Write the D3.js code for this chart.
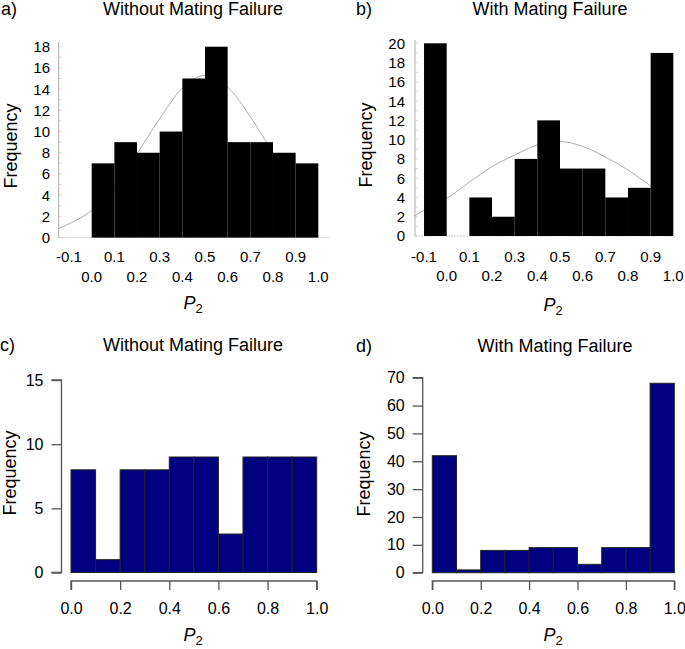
<!DOCTYPE html>
<html><head><meta charset="utf-8">
<script src="https://cdn.jsdelivr.net/npm/d3@7"></script>
<style>body{margin:0;background:#fff}svg{display:block}text{font-family:"Liberation Sans",Arial,sans-serif;fill:#000}</style>
</head><body><svg id="c" width="685" height="649"></svg>
<script>
// ---- data ----
const edgesA = [0.0,0.1,0.2,0.3,0.4,0.5,0.6,0.7,0.8,0.9,1.0];
const countsA = [7,9,8,10,15,18,9,9,8,7];
const curveA = [[-0.146,0.85],[-0.1,1.3],[-0.05,1.85],[0,2.55],[0.1,4.7],[0.2,7.9],[0.3,11.2],[0.4,14.1],[0.5,15.3],[0.6,14.2],[0.7,11.4],[0.8,8.0],[0.9,4.8],[0.98,2.9]];
const edgesB = [-0.1,0.0,0.1,0.2,0.3,0.4,0.5,0.6,0.7,0.8,0.9,1.0];
const countsB = [20,0,4,2,8,12,7,7,4,5,19];
const curveB = [[-0.14,2.08],[-0.1,2.7],[0,3.9],[0.1,5.6],[0.2,7.2],[0.3,8.4],[0.4,9.45],[0.5,9.8],[0.6,9.3],[0.7,8.2],[0.8,6.85],[0.9,5.2],[0.95,4.4]];
const edgesCD = [0.0,0.1,0.2,0.3,0.4,0.5,0.6,0.7,0.8,0.9,1.0];
const countsC = [8,1,8,8,9,9,3,9,9,9];
const countsD = [42,1,8,8,9,9,3,9,9,68];
const xTopRow = [-0.1,0.1,0.3,0.5,0.7,0.9];
const xBottomRow = [0.0,0.2,0.4,0.6,0.8,1.0];
const xTicksCD = [0,0.2,0.4,0.6,0.8,1.0];
const yTicksA = d3.range(0,19,2);
const yTicksB = d3.range(0,21,2);
const yTicksC = [0,5,10,15];
const yTicksD = [0,10,20,30,40,50,60,70];
const titles = ["Without Mating Failure","With Mating Failure","Without Mating Failure","With Mating Failure"];
const letters = ["a)","b)","c)","d)"];

const svg = d3.select("#c");

function header(cx, lx, base, letter, title){
  svg.append("text").attr("x",lx).attr("y",base).attr("font-size",18).text(letter);
  svg.append("text").attr("x",cx).attr("y",base).attr("text-anchor","middle").attr("font-size",18).text(title);
}
function ylabel(x, cy){
  svg.append("text").attr("transform",`translate(${x},${cy}) rotate(-90)`).attr("text-anchor","middle").attr("font-size",18).text("Frequency");
}
function p2(cx, base){
  const t = svg.append("text").attr("x",cx).attr("y",base).attr("text-anchor","middle").attr("font-size",18);
  t.append("tspan").attr("font-style","italic").text("P");
  t.append("tspan").attr("font-size",13).attr("dy",4).text("2");
}

// ---- old style panels (a, b) ----
function oldPanel(o){
  const x = d3.scaleLinear().domain([0,1]).range(o.xr);
  const y = d3.scaleLinear().domain([0,o.ymax]).range(o.yr);
  const g = svg.append("g");
  g.append("line").attr("x1",x(o.xlo)).attr("x2",x(o.xlo)).attr("y1",y(0)).attr("y2",y(o.ytop)).attr("stroke","#999").attr("stroke-width",0.8);
  g.append("line").attr("x1",x(o.xlo)).attr("x2",x(o.xhi)).attr("y1",y(0)).attr("y2",y(0)).attr("stroke","#bbb").attr("stroke-width",0.8).attr("stroke-dasharray","2,1");
  g.selectAll(".mt").data(d3.range(0,o.ymax+1)).join("line")
    .attr("x1",x(o.xlo)).attr("x2",x(o.xlo)+3).attr("y1",d=>y(d)).attr("y2",d=>y(d)).attr("stroke","#bbb").attr("stroke-width",0.6);
  g.append("path").datum(o.curve).attr("d",d3.line().x(d=>x(d[0])).y(d=>y(d[1])).curve(d3.curveMonotoneX))
    .attr("fill","none").attr("stroke","#999").attr("stroke-width",0.8);
  const bins = o.counts.map((c,i)=>({x0:o.edges[i],x1:o.edges[i+1],c}));
  g.selectAll(".bar").data(bins.filter(b=>b.c>0)).join("rect")
    .attr("x",d=>x(d.x0)).attr("width",d=>x(d.x1)-x(d.x0)).attr("y",d=>y(d.c)).attr("height",d=>y(0)-y(d.c)).attr("fill","#000");
  g.selectAll(".yl").data(o.yticks).join("text").attr("x",o.ylx).attr("y",d=>y(d)).attr("dy","0.36em")
    .attr("text-anchor","end").attr("font-size",15).text(d=>d);
  g.selectAll(".xt").data(xTopRow).join("text").attr("x",d=>x(d)).attr("y",o.row1).attr("text-anchor","middle").attr("font-size",15).text(d=>d.toFixed(1));
  g.selectAll(".xb").data(xBottomRow).join("text").attr("x",d=>x(d)).attr("y",o.row2).attr("text-anchor","middle").attr("font-size",15).text(d=>d.toFixed(1));
}

oldPanel({xr:[91.7,318.3], yr:[237.6,46.7], ymax:18, ytop:18.45, xlo:-0.146, xhi:1.052, curve:curveA, edges:edgesA, counts:countsA, yticks:yTicksA, ylx:50, row1:262, row2:281.5});
oldPanel({xr:[446.7,673.3], yr:[236,43.3], ymax:20, ytop:20.35, xlo:-0.14, xhi:1.007, curve:curveB, edges:edgesB, counts:countsB, yticks:yTicksB, ylx:405, row1:261.5, row2:280.5});
header(193, 1, 14.5, letters[0], titles[0]);
header(550, 356, 14.5, letters[1], titles[1]);
ylabel(16.5, 146);
ylabel(371.5, 145);
p2(193, 309);
p2(553, 311);

// ---- R style panels (c, d) ----
function rPanel(o){
  const x = d3.scaleLinear().domain([0,1]).range(o.xr);
  const y = d3.scaleLinear().domain([0,o.ymax]).range(o.yr);
  const g = svg.append("g");
  const bins = o.counts.map((c,i)=>({x0:edgesCD[i],x1:edgesCD[i+1],c}));
  g.selectAll(".bar").data(bins).join("rect")
    .attr("x",d=>x(d.x0)).attr("width",d=>x(d.x1)-x(d.x0)).attr("y",d=>y(d.c)).attr("height",d=>y(0)-y(d.c))
    .attr("fill","#000080").attr("stroke","#222").attr("stroke-width",1);
  const yAx = d3.axisLeft(y).tickValues(o.yticks).tickSize(10).tickPadding(8).tickFormat(d=>d);
  const ga = g.append("g").attr("transform",`translate(${o.yx},0)`).call(yAx);
  ga.select(".domain").attr("stroke","#555").attr("stroke-width",1.3).attr("d",`M-10,${y(0)}H0V${y(o.yticks[o.yticks.length-1])}H-10`);
  ga.selectAll(".tick line").attr("stroke","#555").attr("stroke-width",1.3);
  ga.selectAll("text").attr("font-size",16).attr("font-family","Liberation Sans, Arial, sans-serif").attr("fill","#222");
  const xAx = d3.axisBottom(x).tickValues(xTicksCD).tickSize(9).tickPadding(13).tickFormat(d3.format(".1f"));
  const gx = g.append("g").attr("transform",`translate(0,${o.xy})`).call(xAx);
  gx.select(".domain").attr("stroke","#555").attr("stroke-width",1.3).attr("d",`M${x(0)},9V0H${x(1)}V9`);
  gx.selectAll(".tick line").attr("stroke","#555").attr("stroke-width",1.3);
  gx.selectAll("text").attr("font-size",16).attr("font-family","Liberation Sans, Arial, sans-serif").attr("fill","#222");
}
rPanel({xr:[71,316.7], yr:[572.5,380], ymax:15, counts:countsC, yticks:yTicksC, yx:61.5, xy:581});
rPanel({xr:[432.3,674.3], yr:[572.7,377.7], ymax:70, counts:countsD, yticks:yTicksD, yx:422.7, xy:581});
header(193, 0, 351, letters[2], titles[2]);
header(555, 356, 351.5, letters[3], titles[3]);
ylabel(15.5, 473);
ylabel(370, 474);
p2(193, 641);
p2(553, 641);
</script></body></html>
